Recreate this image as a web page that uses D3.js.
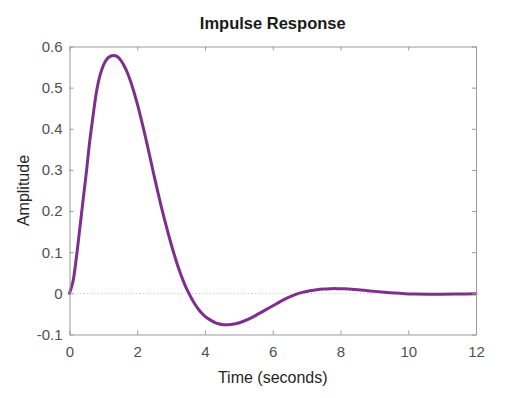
<!DOCTYPE html>
<html>
<head>
<meta charset="utf-8">
<script src="https://cdn.jsdelivr.net/npm/d3@7"></script>
<style>
  html, body { margin: 0; padding: 0; background: #fff; }
  svg { display: block; font-family: "Liberation Sans", Arial, Helvetica, sans-serif; }
</style>
</head>
<body>
<svg id="chart" width="525" height="398"></svg>
<script>
// ---- data ----
const timeValues = [0, 0.1, 0.2, 0.3, 0.4, 0.5, 0.6, 0.7, 0.8, 0.9, 1.0, 1.1, 1.2, 1.3, 1.4, 1.5, 1.6, 1.7, 1.8, 1.9,
  2.0, 2.1, 2.2, 2.3, 2.4, 2.5, 2.6, 2.7, 2.8, 2.9, 3.0, 3.1, 3.2, 3.3, 3.4, 3.5, 3.6, 3.7, 3.8, 3.9,
  4.0, 4.1, 4.2, 4.3, 4.4, 4.5, 4.6, 4.7, 4.9, 5.1, 5.3, 5.5, 5.7, 5.9, 6.1, 6.3, 6.5, 6.7, 6.9, 7.1,
  7.3, 7.5, 7.7, 7.9, 8.1, 8.4, 8.7, 9.0, 9.3, 9.6, 9.9, 10.2, 10.6, 11.0, 11.5, 12.0];
const amplitudeValues = [0, 0.028, 0.085, 0.155, 0.226, 0.296, 0.372, 0.434, 0.492, 0.530, 0.554, 0.569, 0.576, 0.578, 0.576, 0.568, 0.555, 0.538, 0.516, 0.490,
  0.461, 0.429, 0.395, 0.359, 0.322, 0.285, 0.249, 0.214, 0.181, 0.150, 0.120, 0.092, 0.066, 0.043, 0.022, 0.004, -0.012, -0.026, -0.038, -0.048,
  -0.056, -0.062, -0.067, -0.071, -0.074, -0.0757, -0.0765, -0.0763, -0.0740, -0.0690, -0.0620, -0.0535, -0.0443, -0.0350, -0.0258, -0.0165, -0.0085, -0.0018, 0.0030, 0.0065,
  0.0090, 0.0105, 0.0113, 0.0115, 0.0110, 0.0095, 0.0073, 0.0048, 0.0025, 0.0006, -0.0007, -0.0015, -0.0019, -0.0019, -0.0015, -0.0010];
const xTicks = [0, 2, 4, 6, 8, 10, 12];
const yTicks = [-0.1, 0, 0.1, 0.2, 0.3, 0.4, 0.5, 0.6];
const xDomain = [0, 12];
const yDomain = [-0.1, 0.6];
const titleText = "Impulse Response";
const xLabelText = "Time (seconds)";
const yLabelText = "Amplitude";

// ---- layout ----
const margin = { left: 69.5, right: 49, top: 46.5, bottom: 63.5 };
const W = 525, H = 398;
const svg = d3.select("#chart");
const x = d3.scaleLinear().domain(xDomain).range([margin.left, W - margin.right]);
const y = d3.scaleLinear().domain(yDomain).range([H - margin.bottom, margin.top]);

const axisColor = "#9a9a9a";
const tickTextColor = "#505050";
const tickLen = 4;

// zero reference line (dotted)
svg.append("line")
  .attr("x1", x(xDomain[0])).attr("x2", x(xDomain[1]))
  .attr("y1", Math.round(y(0)) + 0.5).attr("y2", Math.round(y(0)) + 0.5)
  .attr("stroke", "#c4c4c4").attr("stroke-width", 1)
  .attr("stroke-dasharray", "1,2.5");

// response curve
const pts = timeValues.map((t, i) => [t, amplitudeValues[i]]);
const line = d3.line().x(d => x(d[0])).y(d => y(d[1])).curve(d3.curveCatmullRom.alpha(0.5));
svg.append("path").datum(pts)
  .attr("d", line)
  .attr("fill", "none")
  .attr("stroke", "#7e2f8e")
  .attr("stroke-width", 3)
  .attr("stroke-linejoin", "round")
  .attr("stroke-linecap", "round");

// axes (box with inward ticks)
function styleAxis(g, showLabels) {
  g.select(".domain").attr("stroke", axisColor).attr("stroke-width", 1);
  g.selectAll(".tick line").attr("stroke", axisColor).attr("stroke-width", 1);
  g.selectAll(".tick text").attr("fill", tickTextColor).attr("font-size", 15)
    .style("display", showLabels ? null : "none");
}
const fmtY = d => (Math.abs(d) < 1e-9 ? "0" : String(+d.toFixed(1)));

const axisBottomG = svg.append("g").attr("transform", `translate(0,${y(yDomain[0])})`)
  .call(d3.axisBottom(x).tickValues(xTicks).tickSizeInner(-tickLen).tickSizeOuter(0).tickPadding(12).tickFormat(d => String(d)));
styleAxis(axisBottomG, true);

const axisTopG = svg.append("g").attr("transform", `translate(0,${y(yDomain[1])})`)
  .call(d3.axisTop(x).tickValues(xTicks).tickSizeInner(-tickLen).tickSizeOuter(0));
styleAxis(axisTopG, false);

const axisLeftG = svg.append("g").attr("transform", `translate(${x(xDomain[0])},0)`)
  .call(d3.axisLeft(y).tickValues(yTicks).tickSizeInner(-tickLen).tickSizeOuter(0).tickPadding(7).tickFormat(fmtY));
styleAxis(axisLeftG, true);

const axisRightG = svg.append("g").attr("transform", `translate(${x(xDomain[1])},0)`)
  .call(d3.axisRight(y).tickValues(yTicks).tickSizeInner(-tickLen).tickSizeOuter(0));
styleAxis(axisRightG, false);

// titles
svg.append("text")
  .attr("x", (x(xDomain[0]) + x(xDomain[1])) / 2).attr("y", 29)
  .attr("text-anchor", "middle").attr("font-size", 16.5).attr("font-weight", "bold")
  .attr("fill", "#1a1a1a").text(titleText);

svg.append("text")
  .attr("x", (x(xDomain[0]) + x(xDomain[1])) / 2).attr("y", 383)
  .attr("text-anchor", "middle").attr("font-size", 16)
  .attr("fill", "#262626").text(xLabelText);

svg.append("text")
  .attr("transform", `translate(29,${(y(yDomain[0]) + y(yDomain[1])) / 2}) rotate(-90)`)
  .attr("text-anchor", "middle").attr("font-size", 16)
  .attr("fill", "#262626").text(yLabelText);
</script>
</body>
</html>
